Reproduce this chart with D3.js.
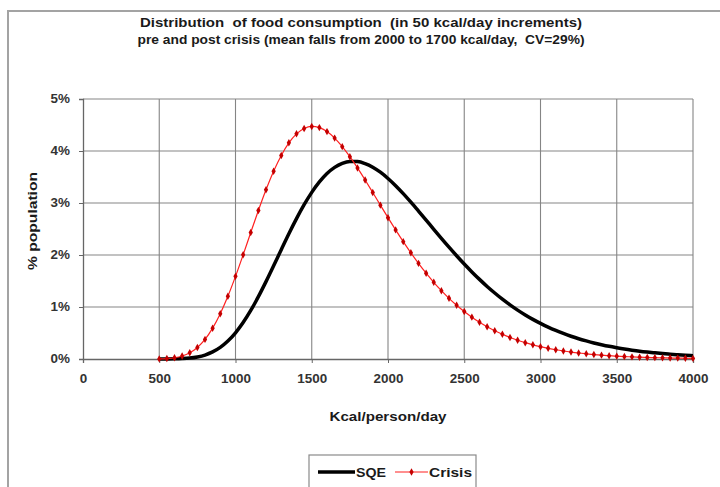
<!DOCTYPE html>
<html>
<head>
<meta charset="utf-8">
<script src="https://cdn.jsdelivr.net/npm/d3@7"></script>
<style>
  body { margin: 0; background: #fff; }
  text { font-family: "Liberation Sans", Arial, sans-serif; font-weight: bold; }
  .title { white-space: pre; }
</style>
</head>
<body>
<div id="display"></div>
<script>
// data (% of population per 50 kcal band)
const kcal = [500, 550, 600, 650, 700, 750, 800, 850, 900, 950,
    1000, 1050, 1100, 1150, 1200, 1250, 1300, 1350, 1400, 1450,
    1500, 1550, 1600, 1650, 1700, 1750, 1800, 1850, 1900, 1950,
    2000, 2050, 2100, 2150, 2200, 2250, 2300, 2350, 2400, 2450,
    2500, 2550, 2600, 2650, 2700, 2750, 2800, 2850, 2900, 2950,
    3000, 3050, 3100, 3150, 3200, 3250, 3300, 3350, 3400, 3450,
    3500, 3550, 3600, 3650, 3700, 3750, 3800, 3850, 3900, 3950, 4000];

const sqe = [0.000, 0.001, 0.003, 0.008, 0.018, 0.040, 0.076, 0.136, 0.223, 0.345,
    0.504, 0.701, 0.934, 1.199, 1.488, 1.793, 2.103, 2.409, 2.699, 2.967,
    3.204, 3.405, 3.567, 3.685, 3.763, 3.799, 3.796, 3.758, 3.689, 3.592,
    3.472, 3.333, 3.180, 3.016, 2.845, 2.671, 2.495, 2.321, 2.151, 1.986,
    1.826, 1.675, 1.531, 1.395, 1.269, 1.150, 1.041, 0.940, 0.847, 0.762,
    0.684, 0.613, 0.549, 0.491, 0.438, 0.390, 0.348, 0.309, 0.275, 0.244,
    0.217, 0.192, 0.170, 0.150, 0.133, 0.118, 0.104, 0.092, 0.081, 0.071, 0.063];

const crisis = [0.002, 0.009, 0.024, 0.057, 0.119, 0.222, 0.377, 0.593, 0.871, 1.206,
    1.589, 2.003, 2.433, 2.855, 3.254, 3.611, 3.915, 4.157, 4.330, 4.434,
    4.473, 4.450, 4.373, 4.248, 4.084, 3.890, 3.674, 3.442, 3.202, 2.959,
    2.718, 2.483, 2.257, 2.042, 1.839, 1.650, 1.475, 1.314, 1.167, 1.034,
    0.913, 0.805, 0.707, 0.621, 0.544, 0.475, 0.414, 0.361, 0.314, 0.273,
    0.237, 0.206, 0.178, 0.154, 0.133, 0.115, 0.100, 0.086, 0.074, 0.064,
    0.055, 0.047, 0.041, 0.035, 0.030, 0.026, 0.022, 0.019, 0.017, 0.014, 0.012];

const xTicks = [0, 500, 1000, 1500, 2000, 2500, 3000, 3500, 4000];
const yTicks = [0, 1, 2, 3, 4, 5];
const yTickLabels = ['0%', '1%', '2%', '3%', '4%', '5%'];

const titleLines = ['Distribution  of food consumption  (in 50 kcal/day increments)',
    'pre and post crisis (mean falls from 2000 to 1700 kcal/day,  CV=29%)'];
const seriesNames = ['SQE', 'Crisis'];

// dimensions and margins
const W = 720, H = 487;
const margin = {top: 99, left: 83};
const width = 610, height = 260;

const svg = d3.select('#display')
    .append('svg')
        .attr('width', W)
        .attr('height', H);

// outer chart frame (runs off right / bottom edge)
svg.append('rect')
    .attr('x', 8).attr('y', 11)
    .attr('width', 800).attr('height', 600)
    .attr('fill', 'none')
    .attr('stroke', '#a3a3a3')
    .attr('stroke-width', 2);

// title
svg.selectAll('.title')
    .data(titleLines)
    .enter()
    .append('text')
        .attr('class', 'title')
        .attr('x', 361)
        .attr('y', (d, i) => 27 + i * 17)
        .attr('text-anchor', 'middle')
        .attr('textLength', (d, i) => i === 0 ? 442 : 447)
        .attr('lengthAdjust', 'spacingAndGlyphs')
        .style('font-size', '13px')
        .style('fill', '#1a1a1a')
        .text(d => d);

const g = svg.append('g')
    .attr('transform', 'translate(' + margin.left + ',' + margin.top + ')');

// scales
const x = d3.scaleLinear().domain([0, 4000]).range([0, width]);
const y = d3.scaleLinear().domain([0, 5]).range([height, 0]);

// gridlines
g.selectAll('.hgrid')
    .data(yTicks.slice(1))
    .enter()
    .append('line')
        .attr('x1', 0).attr('x2', width)
        .attr('y1', d => y(d)).attr('y2', d => y(d))
        .attr('stroke', '#858585')
        .attr('stroke-width', 1.1);

g.selectAll('.vgrid')
    .data(xTicks.slice(1))
    .enter()
    .append('line')
        .attr('x1', d => x(d)).attr('x2', d => x(d))
        .attr('y1', 0).attr('y2', height)
        .attr('stroke', '#858585')
        .attr('stroke-width', 1.1);

// axes
const sx = 1.12;
const yAxis = g.append('g')
    .call(d3.axisLeft(y)
        .tickValues(yTicks)
        .tickFormat((d, i) => yTickLabels[i])
        .tickSize(4)
        .tickPadding(13 / sx - 4));

const xAxis = g.append('g')
    .attr('transform', 'translate(0,' + height + ')')
    .call(d3.axisBottom(x)
        .tickValues(xTicks)
        .tickFormat(d3.format('d'))
        .tickSize(4)
        .tickPadding(11));

[yAxis, xAxis].forEach(ax => {
    ax.select('.domain').attr('stroke', '#666').attr('stroke-width', 1.3);
    ax.selectAll('.tick line').attr('stroke', '#666');
    ax.selectAll('.tick text')
        .attr('transform', 'scale(' + sx + ',1)')
        .style('font-size', '12px')
        .style('font-family', '"Liberation Sans", Arial, sans-serif')
        .style('font-weight', 'bold')
        .attr('fill', '#333');
});

// lines
const line = series => d3.line()
    .x((d, i) => x(kcal[i]))
    .y(d => y(d))
    .curve(d3.curveMonotoneX)(series);

g.append('path')
    .attr('d', line(sqe))
    .attr('fill', 'none')
    .attr('stroke', '#000')
    .attr('stroke-width', 3.5);

g.append('path')
    .attr('d', line(crisis))
    .attr('fill', 'none')
    .attr('stroke', '#ff2020')
    .attr('stroke-width', 1.2);

const marker = d3.symbol().type(d3.symbolDiamond).size(16);
g.selectAll('.pt')
    .data(crisis)
    .enter()
    .append('path')
        .attr('d', marker)
        .attr('transform', (d, i) => 'translate(' + x(kcal[i]) + ',' + y(d) + ')')
        .attr('fill', '#c40000');

// axis titles
svg.append('text')
    .attr('x', margin.left + width / 2)
    .attr('y', 421)
    .attr('text-anchor', 'middle')
    .attr('textLength', 117)
    .attr('lengthAdjust', 'spacingAndGlyphs')
    .style('font-size', '13px')
    .style('fill', '#1a1a1a')
    .text('Kcal/person/day');

svg.append('text')
    .attr('transform', 'translate(37,221) rotate(-90)')
    .attr('text-anchor', 'middle')
    .attr('textLength', 98)
    .attr('lengthAdjust', 'spacingAndGlyphs')
    .style('font-size', '13px')
    .style('fill', '#1a1a1a')
    .text('% population');

// legend
const lg = svg.append('g').attr('transform', 'translate(309,455)');
lg.append('rect')
    .attr('width', 167).attr('height', 60)
    .attr('fill', '#fff')
    .attr('stroke', '#8a8a8a')
    .attr('stroke-width', 1.2);

lg.append('line')
    .attr('x1', 9).attr('x2', 46).attr('y1', 17).attr('y2', 17)
    .attr('stroke', '#000').attr('stroke-width', 3.5);
lg.append('text')
    .attr('x', 47).attr('y', 21.5)
    .attr('textLength', 30).attr('lengthAdjust', 'spacingAndGlyphs')
    .style('font-size', '13px').style('fill', '#1a1a1a')
    .text(seriesNames[0]);

lg.append('line')
    .attr('x1', 86).attr('x2', 119).attr('y1', 17).attr('y2', 17)
    .attr('stroke', '#ff2020').attr('stroke-width', 1.2);
lg.append('path')
    .attr('d', marker)
    .attr('transform', 'translate(102.5,17)')
    .attr('fill', '#c40000');
lg.append('text')
    .attr('x', 120).attr('y', 21.5)
    .attr('textLength', 43).attr('lengthAdjust', 'spacingAndGlyphs')
    .style('font-size', '13px').style('fill', '#1a1a1a')
    .text(seriesNames[1]);
</script>
</body>
</html>
